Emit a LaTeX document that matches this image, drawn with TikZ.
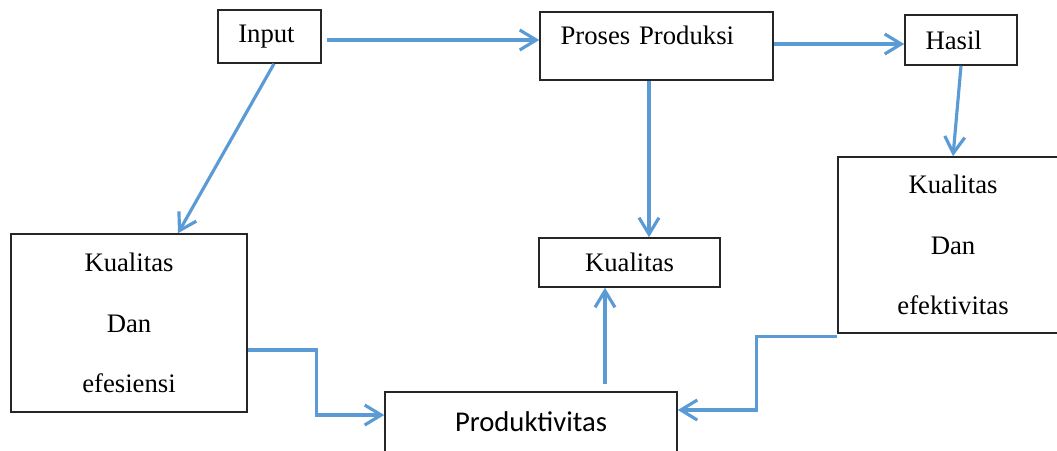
\documentclass[tikz,border=0pt]{standalone}
\usepackage{fontspec}
\setmainfont{Liberation Serif}
\newfontfamily\calibrifont{Carlito}
\usetikzlibrary{arrows.meta}
\definecolor{lineblue}{RGB}{91,155,213}

\begin{document}
\begin{tikzpicture}[x=0.02cm,y=-0.02cm]
\tikzstyle{box} = [draw=black!85,line width=0.9pt,rectangle,inner sep=0pt,align=center,
  font=\fontsize{15.2}{34.6}\selectfont]
\tikzstyle{leftbox} = [box,align=left,inner xsep=0.41cm]
\tikzstyle{edge} = [->,draw=lineblue,line width=1.8pt,>={Straight Barb[length=3.3mm,width=4mm]}]
\clip (0,0) rectangle (1057,450);
% top row
\node[leftbox,text width=1.25cm,minimum height=1.06cm] (input) at (269.5,36.5) {Input};
\node[leftbox,text width=3.84cm,minimum height=1.36cm,text depth=0.42cm] (proses) at (656.5,46) {Proses Produksi};
\node[leftbox,text width=1.42cm,minimum height=1cm] (hasil) at (961,40) {Hasil};
% middle / bottom
\node[box,minimum width=4.72cm,minimum height=3.56cm] (efisien) at (129,323) {Kualitas\\Dan\\efesiensi};
\node[box,minimum width=3.62cm,minimum height=0.98cm] (kualitas) at (629.5,262.5) {Kualitas};
\node[box,minimum width=4.6cm,minimum height=3.52cm] (efektif) at (953,245) {Kualitas\\Dan\\efektivitas};
\node[box,minimum width=5.84cm,minimum height=1.2cm,font=\calibrifont\fontsize{16.3}{20}\selectfont] (produk) at (531,422) {Produktivitas};
% arrows
\draw[edge,shorten <=0.1cm] ([yshift=-0.07cm]input.east) -- ([yshift=-0.07cm]input.east -| proses.west);
\draw[edge] ([yshift=0.04cm]proses.east) -- ([yshift=0.04cm]proses.east -| hasil.west);
\draw[edge] ([xshift=0.09cm]input.south) -- ([xshift=0.98cm]efisien.north);
\draw[edge] ([xshift=-0.15cm]proses.south) -- ([xshift=-0.15cm]proses.south |- kualitas.north);
\draw[edge] (hasil.south) -- (efektif.north);
\draw[edge] ([yshift=-0.54cm]efisien.east) -- ++(69,0) |- ([yshift=0.14cm]produk.west);
\draw[edge] ([yshift=-0.06cm]efektif.south west) -- ++(-81,0) |- ([yshift=0.24cm]produk.east);
\draw[edge,shorten <=0.14cm] ([xshift=1.48cm]produk.north) -- ([xshift=1.48cm]produk.north |- kualitas.south);
\end{tikzpicture}
\end{document}
